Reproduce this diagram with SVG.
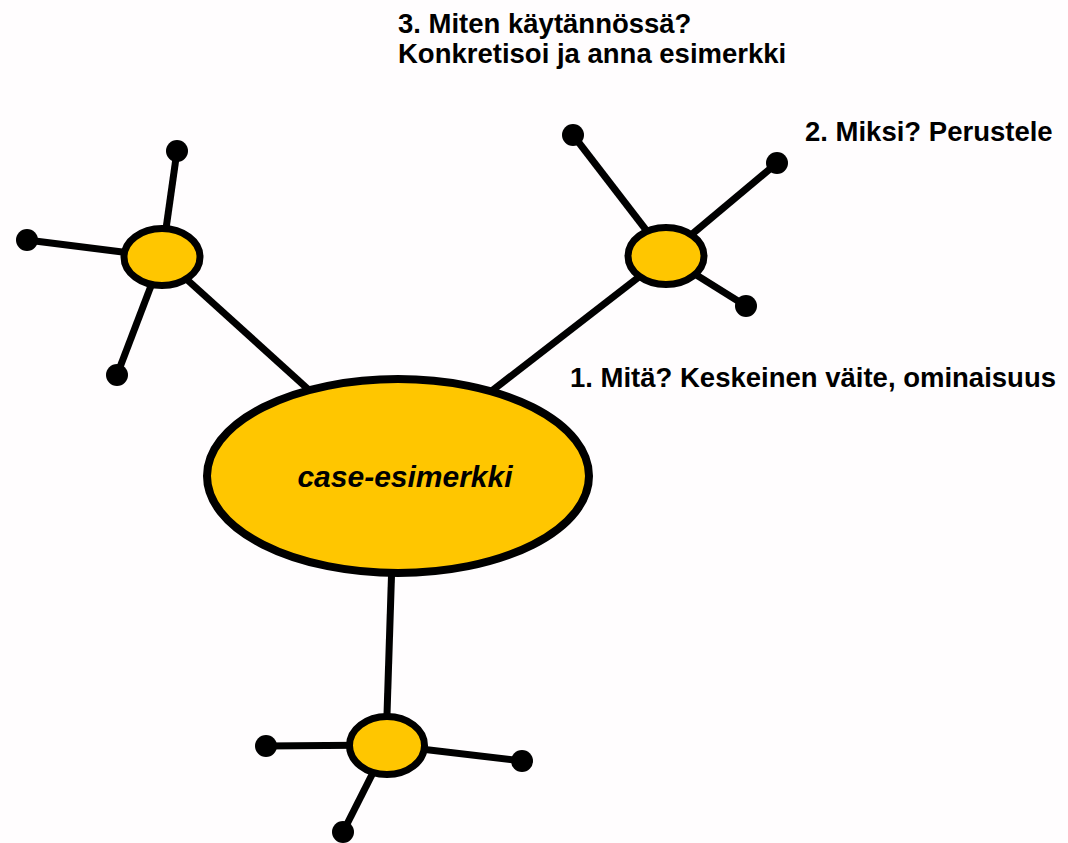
<svg xmlns="http://www.w3.org/2000/svg" width="1068" height="843" viewBox="0 0 1068 843">
  <style>
    .link { stroke: #000; stroke-width: 7; fill: none; }
    .hub { fill: #FFC600; stroke: #000; stroke-width: 7; }
    .core { fill: #FFC600; stroke: #000; stroke-width: 8; }
    .tip { fill: #000; }
    .label { font-family: "Liberation Sans", Arial, sans-serif; font-weight: bold; font-size: 27.5px; fill: #000; }
    .title { font-family: "Liberation Sans", Arial, sans-serif; font-weight: bold; font-style: italic; font-size: 30px; fill: #000; }
  </style>
  <rect width="1068" height="843" fill="#fffdfe"/>

  <!-- connectors: hub-to-core spokes and hub-to-tip spokes -->
  <g id="connectors">
    <line class="link" x1="162" y1="257" x2="320" y2="400"/>
    <line class="link" x1="666" y1="256" x2="480" y2="400"/>
    <line class="link" x1="392" y1="560" x2="386" y2="745"/>

    <line class="link" x1="162" y1="257" x2="177" y2="151"/>
    <line class="link" x1="162" y1="257" x2="27" y2="240"/>
    <line class="link" x1="162" y1="257" x2="117" y2="375"/>

    <line class="link" x1="666" y1="256" x2="573" y2="135"/>
    <line class="link" x1="666" y1="256" x2="777" y2="163"/>
    <line class="link" x1="666" y1="256" x2="746" y2="306"/>

    <line class="link" x1="387" y1="745" x2="266" y2="746"/>
    <line class="link" x1="387" y1="745" x2="522" y2="761"/>
    <line class="link" x1="387" y1="745" x2="343" y2="832"/>
  </g>

  <g id="node-core">
    <ellipse class="core" cx="398" cy="476" rx="191" ry="97"/>
    <text class="title" x="405" y="487" text-anchor="middle">case-esimerkki</text>
  </g>

  <g id="node-left">
    <ellipse class="hub" cx="162" cy="257" rx="38" ry="28.5"/>
    <circle class="tip" cx="177" cy="151" r="11"/>
    <circle class="tip" cx="27" cy="240" r="11"/>
    <circle class="tip" cx="117" cy="375" r="11"/>
  </g>

  <g id="node-right">
    <ellipse class="hub" cx="666" cy="256" rx="38" ry="28.5"/>
    <circle class="tip" cx="573" cy="135" r="11"/>
    <circle class="tip" cx="777" cy="163" r="11"/>
    <circle class="tip" cx="746" cy="306" r="11"/>
  </g>

  <g id="node-bottom">
    <ellipse class="hub" cx="387" cy="745.5" rx="37.5" ry="29"/>
    <circle class="tip" cx="266" cy="746" r="11"/>
    <circle class="tip" cx="522" cy="761" r="11"/>
    <circle class="tip" cx="343" cy="832" r="11"/>
  </g>

  <g id="labels">
    <text class="label" x="570" y="387">1. Mitä? Keskeinen väite, ominaisuus</text>
    <text class="label" x="805" y="141">2. Miksi? Perustele</text>
    <text class="label" x="398" y="33">3. Miten käytännössä?</text>
    <text class="label" x="398" y="63">Konkretisoi ja anna esimerkki</text>
  </g>
</svg>
